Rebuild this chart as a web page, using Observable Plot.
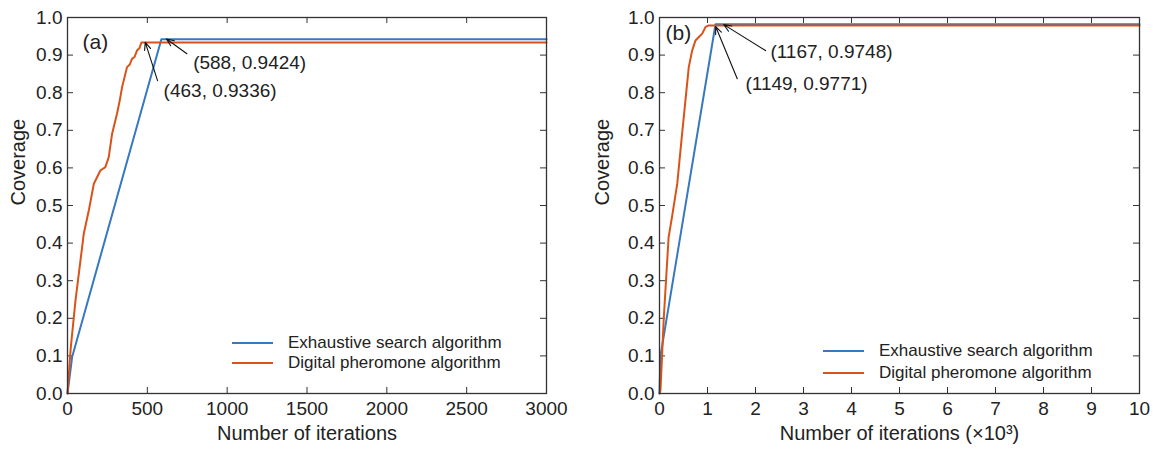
<!DOCTYPE html>
<html><head><meta charset="utf-8">
<script src="https://cdn.jsdelivr.net/npm/d3@7"></script>
<script src="https://cdn.jsdelivr.net/npm/@observablehq/plot@0.6"></script>
<style>
body{margin:0;background:#fff;font-family:"Liberation Sans",Arial,sans-serif;}
#wrap{display:flex;width:1153px;height:454px;}
.panel{position:relative;}
.panel svg{display:block;}
.row{position:absolute;white-space:nowrap;display:flex;align-items:center;font-size:17px;line-height:20px;height:20px;color:#222;}
.sw{display:inline-block;width:41px;height:2px;margin-right:15px;}
</style></head><body><div id="wrap"></div><script>
// ---- data ----
const seriesNames = ["Exhaustive search algorithm", "Digital pheromone algorithm"];
const seriesColors = ["#3778bf", "#d95319"];
const yTicks = [0, 0.1, 0.2, 0.3, 0.4, 0.5, 0.6, 0.7, 0.8, 0.9, 1.0];

// panel (a): iterations
const xTicksA = [0, 500, 1000, 1500, 2000, 2500, 3000];
const esA_x = [0, 29, 588, 3000];
const esA_y = [0, 0.097, 0.9424, 0.9424];
const dpA_x = [0, 20, 50, 102, 135, 165, 206, 237, 258, 279, 310, 327, 342, 373, 390, 404, 420, 435, 450, 463, 3000];
const dpA_y = [0, 0.12, 0.247, 0.425, 0.49, 0.558, 0.593, 0.602, 0.628, 0.69, 0.744, 0.779, 0.815, 0.868, 0.875, 0.89, 0.895, 0.912, 0.918, 0.9336, 0.9336];

// panel (b): iterations (x10^3)
const xTicksB = [0, 1, 2, 3, 4, 5, 6, 7, 8, 9, 10];
const esB_x = [0, 0.02, 1.167, 10];
const esB_y = [0, 0.1, 0.982, 0.982];
const dpB_x = [0, 0.02, 0.09, 0.19, 0.26, 0.37, 0.47, 0.54, 0.61, 0.68, 0.75, 0.82, 0.89, 0.96, 1.03, 1.149, 10];
const dpB_y = [0, 0.008, 0.203, 0.416, 0.469, 0.558, 0.69, 0.779, 0.868, 0.912, 0.939, 0.948, 0.957, 0.975, 0.979, 0.979, 0.979];

const annA_text = ["(588, 0.9424)", "(463, 0.9336)"];
const annB_text = ["(1167, 0.9748)", "(1149, 0.9771)"];

function rows(xs, ys, s) { return xs.map((x, i) => ({x, y: ys[i], s})); }

function makePanel(cfg) {
  const {width, marginLeft, marginRight, xDomain, xTicks, xLen, data, anns, arrows, tag, tagPos, xLabel, yLabelDx, legend} = cfg;
  const yLen = 0.016;
  const plot = Plot.plot({
    width, height: 454, marginLeft, marginRight, marginTop: 17, marginBottom: 61,
    style: {fontFamily: '"Liberation Sans", Arial, sans-serif', fontSize: "19px", color: "#222", background: "#fff"},
    x: {domain: xDomain},
    y: {domain: [0, 1]},
    color: {domain: seriesNames, range: seriesColors},
    marks: [
      Plot.axisX({ticks: xTicks, tickSize: 0, tickPadding: 8, label: null, fontSize: 19, tickFormat: d => String(d)}),
      Plot.axisY({ticks: yTicks, tickSize: 0, tickPadding: 5, label: null, fontSize: 19, tickFormat: d3.format(".1f")}),
      Plot.ruleX(xTicks, {x: d => d, y1: 0, y2: yLen, stroke: "#333", strokeWidth: 1}),
      Plot.ruleX(xTicks, {x: d => d, y1: 1 - yLen, y2: 1, stroke: "#333", strokeWidth: 1}),
      Plot.ruleY(yTicks, {y: d => d, x1: xDomain[0], x2: xDomain[0] + xLen, stroke: "#333", strokeWidth: 1}),
      Plot.ruleY(yTicks, {y: d => d, x1: xDomain[1] - xLen, x2: xDomain[1], stroke: "#333", strokeWidth: 1}),
      Plot.line(data, {x: "x", y: "y", z: "s", stroke: "s", strokeWidth: 2, strokeLinejoin: "round"}),
      Plot.frame({stroke: "#333", strokeWidth: 1.3}),
      Plot.arrow(arrows, {x1: "x1", y1: "y1", x2: "x2", y2: "y2", stroke: "#111", strokeWidth: 1.1, headLength: 11, headAngle: 45}),
      Plot.text(anns, {x: "x", y: "y", text: "t", textAnchor: "start", fontSize: 19, fill: "#222"}),
      Plot.text([tag], {x: tagPos[0], y: tagPos[1], text: d => d, textAnchor: "start", fontSize: 21, fill: "#222"}),
      Plot.text([xLabel], {frameAnchor: "bottom", dy: 46, text: d => d, fontSize: 20, fill: "#222"}),
      Plot.text(["Coverage"], {frameAnchor: "left", dx: yLabelDx, rotate: -90, text: d => d, fontSize: 20, fill: "#222"})
    ]
  });
  const div = document.createElement("div");
  div.className = "panel";
  div.style.width = width + "px";
  div.appendChild(plot);
  legend.forEach((r, i) => {
    const row = document.createElement("div");
    row.className = "row";
    row.style.left = r.left + "px";
    row.style.top = (r.y - 10) + "px";
    const sw = document.createElement("span");
    sw.className = "sw";
    sw.style.background = seriesColors[i];
    row.appendChild(sw);
    row.appendChild(document.createTextNode(seriesNames[i]));
    div.appendChild(row);
  });
  return div;
}

const dataA = [...rows(esA_x, esA_y, seriesNames[0]), ...rows(dpA_x, dpA_y, seriesNames[1])];
const dataB = [...rows(esB_x, esB_y, seriesNames[0]), ...rows(dpB_x, dpB_y, seriesNames[1])];

const wrap = document.getElementById("wrap");
wrap.appendChild(makePanel({
  width: 576, marginLeft: 67, marginRight: 30, xDomain: [0, 3000], xTicks: xTicksA, xLen: 37.6,
  data: dataA,
  anns: [{x: 787, y: 0.880, t: annA_text[0]}, {x: 602, y: 0.806, t: annA_text[1]}],
  arrows: [{x1: 748, y1: 0.9035, x2: 620, y2: 0.943}, {x1: 564, y1: 0.832, x2: 487, y2: 0.934}],
  tag: "(a)", tagPos: [94, 0.934], xLabel: "Number of iterations", yLabelDx: -49,
  legend: [{left: 232, y: 343}, {left: 232, y: 363}]
}));
wrap.appendChild(makePanel({
  width: 577, marginLeft: 83, marginRight: 14, xDomain: [0, 10], xTicks: xTicksB, xLen: 0.125,
  data: dataB,
  anns: [{x: 2.31, y: 0.908, t: annB_text[0]}, {x: 1.79, y: 0.824, t: annB_text[1]}],
  arrows: [{x1: 2.21, y1: 0.912, x2: 1.34, y2: 0.981}, {x1: 1.62, y1: 0.837, x2: 1.17, y2: 0.976}],
  tag: "(b)", tagPos: [0.125, 0.957], xLabel: "Number of iterations (×10³)", yLabelDx: -57,
  legend: [{left: 247, y: 351}, {left: 247, y: 373}]
}));
</script></body></html>
